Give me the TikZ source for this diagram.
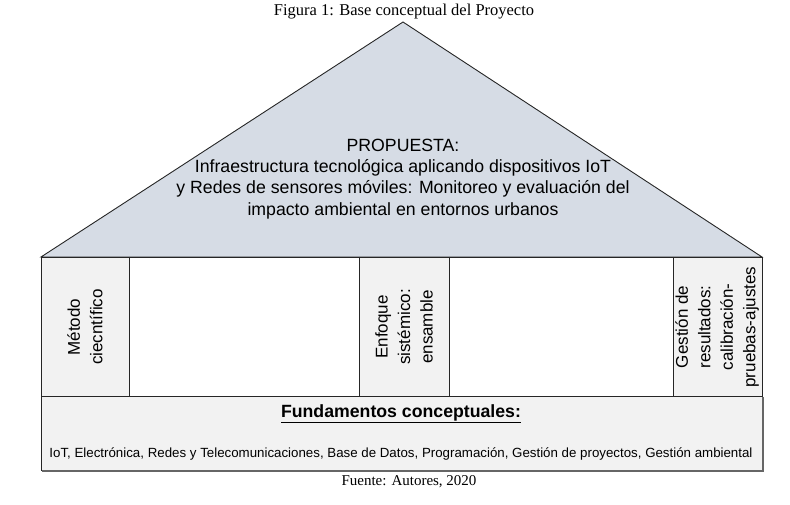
\documentclass[tikz,border=0pt]{standalone}
\usepackage{fontspec}
\setmainfont{Liberation Serif}
\setsansfont{Liberation Sans}
\usepackage{xcolor}
\usepackage{tikz}
\usetikzlibrary{positioning}

\definecolor{roofblue}{RGB}{214,220,229}
\definecolor{pillargray}{RGB}{242,242,242}

\tikzset{
  caption/.style={font=\fontsize{15}{17}\selectfont},
  rooftext/.style={align=center, font=\sffamily\fontsize{17.7}{21.3}\selectfont},
  pillartext/.style={rotate=90, align=center, font=\sffamily\fontsize{17}{22.5}\selectfont},
  frame/.style={draw=black!85, line width=0.9pt}
}

\begin{document}
\begin{tikzpicture}[x=1pt,y=-1pt]
    \useasboundingbox (0,0) rectangle (790,505);
    \node[caption, font=\fontsize{16.5}{18}\selectfont] (titulo) at (404,12) {Figura 1: Base conceptual del Proyecto};
    % techo
    \coordinate (cima) at (403,22);
    \coordinate (techoL) at (41,257);
    \coordinate (techoR) at (762,257);
    \draw[frame, fill=roofblue] (techoL) -- (cima) -- (techoR) -- cycle;
    \node[rooftext] (propuesta) at (403,179) {PROPUESTA:\\Infraestructura tecnológica aplicando dispositivos IoT\\y Redes de sensores móviles: Monitoreo y evaluación del\\impacto ambiental en entornos urbanos};
    % pilares
    \draw[frame, fill=pillargray] (41,257) rectangle (129,396);
    \draw[frame, fill=white] (129,257) rectangle (359,396);
    \draw[frame, fill=pillargray] (359,257) rectangle (449,396);
    \draw[frame, fill=white] (449,257) rectangle (673,396);
    \draw[frame, fill=pillargray] (673,257) rectangle (762,396);
    \node[pillartext] (metodo) at (85,327) {Método\\ciecntífico};
    \node[pillartext] (enfoque) at (404,327) {Enfoque\\sistémico:\\ensamble};
    \node[pillartext] (gestion) at (717,327) {Gestión de\\resultados:\\calibración-\\pruebas-ajustes};
    % base
    \draw[frame, fill=pillargray] (41,396) rectangle (762,470);
    \draw[black!60, line width=1.2pt] (42,471) -- (763,471) -- (763,397);
    \node[font=\sffamily\bfseries\fontsize{17.7}{20}\selectfont] (fundamentos) at (401,414) {\underline{Fundamentos conceptuales:}};
    \node[font=\sffamily\fontsize{13.3}{15}\selectfont] (areas) at (401,454) {IoT, Electrónica, Redes y Telecomunicaciones, Base de Datos, Programación, Gestión de proyectos, Gestión ambiental};
    \node[caption] (fuente) at (409,482) {Fuente: Autores, 2020};
\end{tikzpicture}
\end{document}
